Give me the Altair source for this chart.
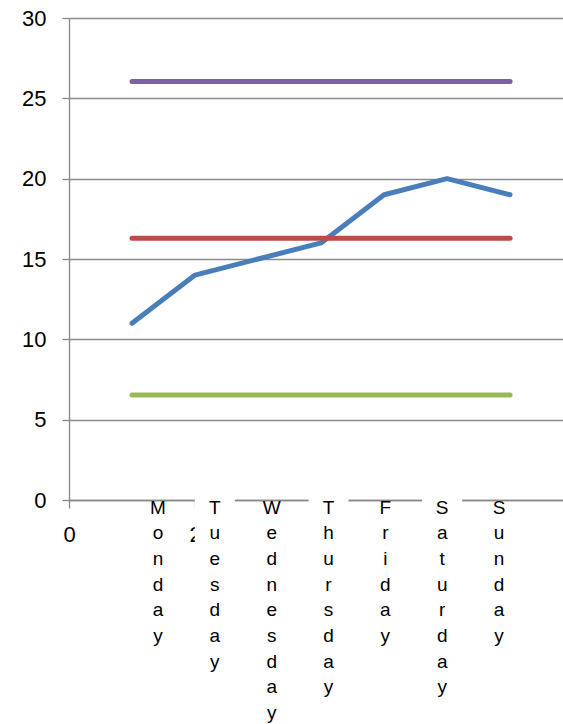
import altair as alt
import pandas as pd

days = ["Monday", "Tuesday", "Wednesday", "Thursday", "Friday", "Saturday", "Sunday"]
day_x = [1, 2, 3, 4, 5, 6, 7]
values = [11, 14, 15, 16, 19, 20, 19]
mean_line = [16.29] * 7
ucl_line = [26.04] * 7
lcl_line = [6.54] * 7
covered = ["Tuesday", "Thursday", "Saturday"]
x_ticks = [0, 2]
y_ticks = [0, 5, 10, 15, 20, 25, 30]

series_names = ["Value", "Mean", "UCL", "LCL"]
series_vals = [values, mean_line, ucl_line, lcl_line]
series_colors = ["#4a7ebb", "#be4b48", "#7d60a0", "#98b954"]

rows = []
for name, vals in zip(series_names, series_vals):
    for x, v in zip(day_x, vals):
        rows.append({"series": name, "x": x, "y": v})
df = pd.DataFrame(rows)

lab = pd.DataFrame({"day": days, "label": ["\n".join(d) for d in days]})
box = pd.DataFrame({"day": covered})

FONT = "Liberation Sans"

lines = alt.Chart(df).mark_line(strokeWidth=5, strokeCap="round", strokeJoin="round").encode(
    x=alt.X("x:Q", scale=alt.Scale(domain=[0, 7.84], nice=False, zero=True),
            axis=alt.Axis(values=x_ticks, title=None, grid=False, tickSize=8, labelFlush=False,
                          labelPadding=16, labelFontSize=22, labelFont=FONT, labelColor="black",
                          domainColor="#888888", tickColor="#888888", domainWidth=1.3, tickWidth=1.3)),
    y=alt.Y("y:Q", scale=alt.Scale(domain=[0, 30], nice=False),
            axis=alt.Axis(values=y_ticks, title=None, grid=True,
                          gridColor="#8c8c8c", gridWidth=1.3, tickSize=7, labelPadding=16,
                          labelFontSize=22, labelFont=FONT, labelColor="black",
                          domainColor="#888888", tickColor="#888888", domainWidth=1.3, tickWidth=1.3)),
    color=alt.Color("series:N", scale=alt.Scale(domain=series_names, range=series_colors), legend=None),
    detail="series:N",
)

xlab = alt.X("day:N", sort=days, scale=alt.Scale(type="point", domain=days, range=[89, 430], padding=0), axis=None)

boxes = alt.Chart(box).mark_bar(size=40, color="white").encode(
    x=xlab,
    y=alt.value(478),
    y2=alt.value(542),
)

labels = alt.Chart(lab).mark_text(lineBreak="\n", lineHeight=25.7, baseline="top", align="center",
                                  fontSize=19, font=FONT, color="black").encode(
    x=xlab,
    y=alt.value(480.5),
    text="label:N",
)

chart = alt.layer(lines, boxes, labels).resolve_scale(x="independent").properties(
    width=494, height=482,
    autosize=alt.AutoSizeParams(type="none"),
    padding={"left": 69, "top": 18, "right": 0, "bottom": 224},
).configure_view(stroke=None)

chart.save("out.html", embed_options={"renderer": "svg", "actions": False})
